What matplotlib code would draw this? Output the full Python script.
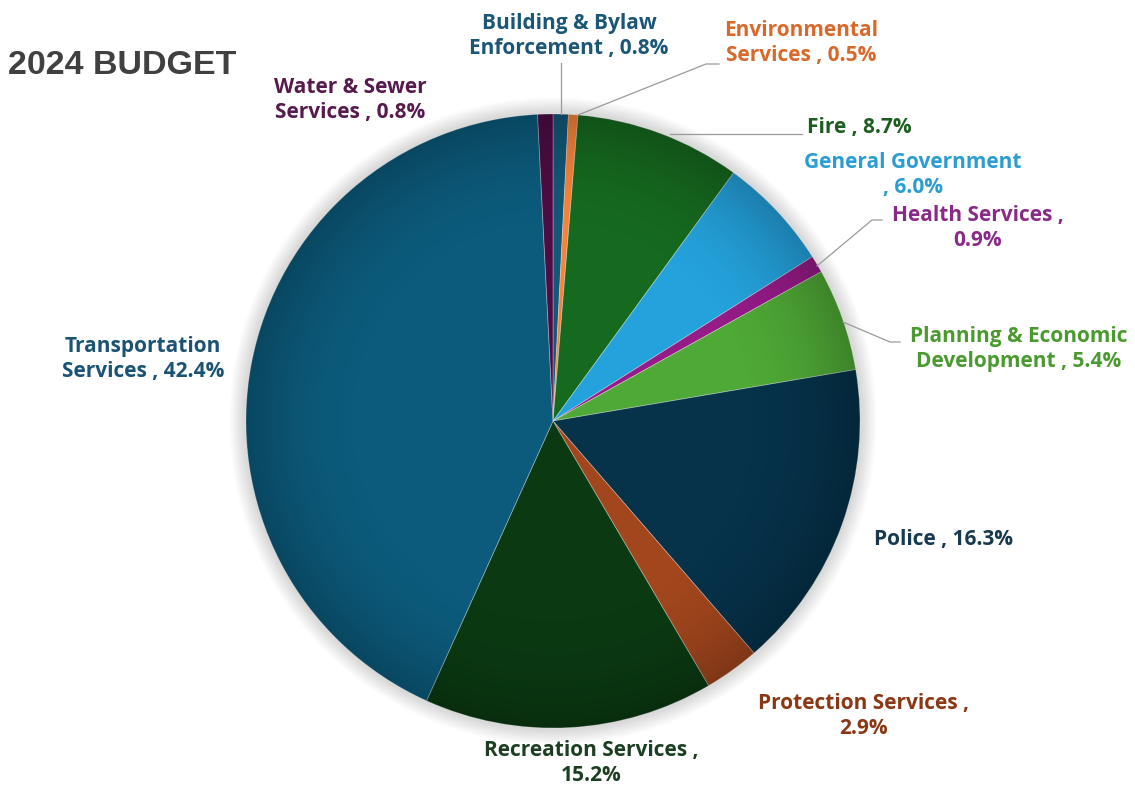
import numpy as np
import matplotlib
matplotlib.use("Agg")
import matplotlib.pyplot as plt
from matplotlib.patches import Circle

W, H = 1135, 790

categories = ["Building & Bylaw\nEnforcement", "Environmental\nServices", "Fire",
              "General Government\n", "Health Services ,\n", "Planning & Economic\nDevelopment",
              "Police", "Protection Services ,\n", "Recreation Services ,\n",
              "Transportation\nServices", "Water & Sewer\nServices"]
shares = [0.8, 0.5, 8.7, 6.0, 0.9, 5.4, 16.3, 2.9, 15.2, 42.4, 0.8]
slice_colors = ["#135878", "#F5843A", "#166A1F", "#24A2DC", "#951B87", "#4FA936",
                "#06324A", "#A2461D", "#0B3A12", "#0C5B7C", "#4E0C44"]
text_colors = ["#1B5676", "#D8692A", "#1D5E20", "#2A9DD3", "#8A2A88", "#4A9A2F",
               "#17394F", "#8A3814", "#1B3F20", "#1A5373", "#571A4E"]

# label centres in pixel coords (y from top)
label_pos = [(569, 36), (801, 43), (859, 128), (913, 175), (978, 228), (1019, 349),
             (943, 539), (863, 716), (591, 763), (143, 359), (350, 100)]
# leader lines (pixel coords) for the small slices
leaders = {0: [(561, 63), (561, 114)],
           1: [(719, 64), (706, 64), (578, 115)],
           2: [(802, 134), (670, 134)],
           4: [(882, 220), (872, 220), (817, 266)],
           5: [(900, 342), (890, 342), (843, 322)]}

cx, cy, R = 553, 421, 307

fig = plt.figure(figsize=(W / 100, H / 100), dpi=100)
ax = fig.add_axes([0, 0, 1, 1])

# soft shadow
for i in range(14):
    ax.add_patch(Circle((cx, H - cy), R + 1 + i * 1.2, color="#888888", alpha=0.025, lw=0, zorder=0))

wedges, _ = ax.pie(shares, colors=slice_colors, startangle=90, counterclock=False,
                   radius=R, center=(cx, H - cy),
                   wedgeprops=dict(edgecolor=(1, 1, 1, 0.35), linewidth=0.6))

# radial shading, darker toward rim
yy, xx = np.mgrid[-R:R:600j, -R:R:600j]
rr = np.sqrt(xx ** 2 + yy ** 2) / R
alpha = np.clip((rr - 0.6) / 0.4, 0, 1) ** 2 * 0.22
shade = np.zeros((600, 600, 4))
shade[..., 3] = alpha
im = ax.imshow(shade, extent=(cx - R, cx + R, H - cy - R, H - cy + R), zorder=3, interpolation="bilinear")
im.set_clip_path(Circle((cx, H - cy), R, transform=ax.transData))

for i, (name, val) in enumerate(zip(categories, shares)):
    x, y = label_pos[i]
    if name.endswith("\n"):
        txt = f"{name}{val:.1f}%"
        if name.startswith("General"):
            txt = f"{name}, {val:.1f}%"
    else:
        txt = f"{name} , {val:.1f}%"
    ax.text(x, H - y, txt, ha="center", va="center", color=text_colors[i],
            fontsize=15, fontweight="bold", family="Open Sans", linespacing=1.3, zorder=5)

for pts in leaders.values():
    xs = [p[0] for p in pts]
    ys = [H - p[1] for p in pts]
    ax.plot(xs, ys, color="#9A9A9A", lw=0.9, zorder=4)

ax.text(8, H - 65, "2024 BUDGET", ha="left", va="center", color="#404040",
        fontsize=24.5, fontweight="bold", family="Liberation Sans")

ax.set_xlim(0, W)
ax.set_ylim(0, H)
ax.set_aspect("equal")
ax.axis("off")

fig.savefig("out.png", dpi=100, facecolor="white")
